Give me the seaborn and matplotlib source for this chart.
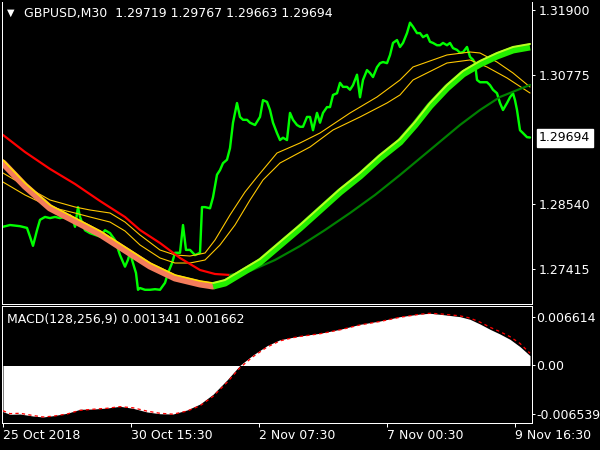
import numpy as np
import matplotlib
matplotlib.use("Agg")
import matplotlib.pyplot as plt
import matplotlib.transforms as mtrans
import seaborn as sns

# ---------------- data (bar index of M30 candles) ----------------
price_bar = [0, 7, 17, 24, 27, 30, 34, 37, 42, 47,
             52, 57, 62, 67, 70, 72, 75, 77, 82, 87,
             92, 97, 102, 107, 112, 117, 119, 122, 125, 127,
             130, 133, 135, 137, 142, 147, 152, 157, 162, 165,
             169, 172, 177, 180, 183, 187, 192, 197, 199, 202,
             207, 210, 214, 217, 220, 224, 227, 230, 234, 237,
             240, 244, 247, 252, 257, 260, 264, 267, 270, 274,
             277, 280, 284, 287, 290, 294, 297, 300, 304, 307,
             310, 314, 317, 320, 324, 327, 330, 334, 337, 340,
             344, 347, 350, 354, 357, 360, 364, 367, 370, 374,
             377, 380, 384, 387, 390, 394, 397, 400, 404, 407,
             410, 414, 417, 420, 424, 427, 430, 434, 437, 440,
             444, 447, 450, 454, 457, 460, 464, 467, 470, 472,
             474, 477, 480, 484, 487, 490, 494, 497, 500, 504,
             507, 510, 512, 514, 517, 520, 524, 527]
price_close = [1.2815, 1.2818, 1.2816, 1.2813, 1.2798, 1.2782, 1.2809, 1.2827, 1.2832, 1.2830,
               1.2832, 1.2830, 1.2832, 1.2835, 1.2827, 1.2815, 1.2849, 1.2832, 1.2809, 1.2804,
               1.2801, 1.2798, 1.2809, 1.2804, 1.2792, 1.2766, 1.2758, 1.2746, 1.2758, 1.2770,
               1.2752, 1.2735, 1.2706, 1.2709, 1.2706, 1.2706, 1.2707, 1.2706, 1.2718, 1.2735,
               1.2752, 1.2770, 1.2770, 1.2818, 1.2775, 1.2775, 1.2766, 1.2770, 1.2849, 1.2849,
               1.2847, 1.2866, 1.2905, 1.2913, 1.2925, 1.2931, 1.2951, 1.2995, 1.3029, 1.3005,
               1.3000, 1.3000, 1.2995, 1.2991, 1.3005, 1.3034, 1.3031, 1.3017, 1.2995, 1.2977,
               1.2965, 1.2969, 1.2965, 1.3012, 1.3000, 1.2991, 1.2988, 1.2988, 1.3005, 1.3005,
               1.2982, 1.3012, 1.2995, 1.3012, 1.3022, 1.3022, 1.3043, 1.3046, 1.3064, 1.3057,
               1.3057, 1.3052, 1.3060, 1.3078, 1.3039, 1.3069, 1.3086, 1.3081, 1.3074, 1.3091,
               1.3098, 1.3100, 1.3098, 1.3112, 1.3133, 1.3138, 1.3126, 1.3133, 1.3150, 1.3168,
               1.3161, 1.3150, 1.3150, 1.3143, 1.3147, 1.3135, 1.3133, 1.3129, 1.3129, 1.3133,
               1.3129, 1.3133, 1.3124, 1.3121, 1.3116, 1.3117, 1.3126, 1.3109, 1.3104, 1.3098,
               1.3069, 1.3065, 1.3065, 1.3065, 1.3060, 1.3052, 1.3046, 1.3029, 1.3017, 1.3029,
               1.3039, 1.3046, 1.3034, 1.3017, 1.2982, 1.2977, 1.2970, 1.29694]

slow_bar = [0, 22, 47, 72, 97, 122, 147, 172, 197, 210, 222, 237, 257, 277,
            297, 317, 337, 357, 377, 397, 412, 427, 444, 460, 477, 494, 510, 527]
slow_ma = [1.29253, 1.28855, 1.28475, 1.28250, 1.28025, 1.27748, 1.27471, 1.27264, 1.27160,
           1.27125, 1.27177, 1.27333, 1.27540, 1.27835, 1.28129, 1.28440, 1.28751, 1.29028,
           1.29340, 1.29616, 1.29911, 1.30239, 1.30551, 1.30793, 1.30966, 1.31104, 1.31208, 1.31260]

trend_bar = [0, 22, 47, 72, 97, 122, 137, 157, 177, 197, 212, 227,
             247, 272, 297, 322, 347, 372, 397, 427, 457, 477, 497, 527]
trend_ma = [1.29738, 1.29443, 1.29150, 1.28890, 1.28596, 1.28319, 1.28094, 1.27869, 1.27610,
            1.27402, 1.27333, 1.27316, 1.27385, 1.27575, 1.27817, 1.28094, 1.28388, 1.28700,
            1.29046, 1.29478, 1.29911, 1.30170, 1.30395, 1.30603]

upper_bar = [0, 22, 47, 72, 87, 107, 122, 137, 157, 172, 187, 202, 212, 227, 242,
             254, 274, 297, 317, 347, 374, 397, 410, 444, 467, 477, 494, 510, 527]
upper_band = [1.29080, 1.28855, 1.28613, 1.28492, 1.28440, 1.28388, 1.28232, 1.28008, 1.27748,
              1.27662, 1.27644, 1.27696, 1.27921, 1.28354, 1.28751, 1.29011, 1.29426, 1.29599,
              1.29772, 1.30118, 1.30395, 1.30689, 1.30914, 1.31122, 1.31173, 1.31156, 1.31000,
              1.30810, 1.30568]

lower_bar = [0, 22, 47, 72, 87, 107, 122, 137, 157, 172, 187, 202, 217, 232,
             247, 260, 277, 307, 330, 357, 384, 397, 410, 444, 467, 484, 504, 527]
lower_band = [1.28924, 1.28700, 1.28492, 1.28388, 1.28319, 1.28232, 1.28077, 1.27835, 1.27610,
              1.27523, 1.27523, 1.27575, 1.27835, 1.28181, 1.28613, 1.28959, 1.29253, 1.29530,
              1.29824, 1.30049, 1.30291, 1.30430, 1.30689, 1.30983, 1.31035, 1.30914, 1.30724,
              1.30464]

macd_bar = [0, 7, 17, 30, 40, 50, 64, 77, 90, 104, 117, 130, 144, 157, 170, 184, 197, 210,
            224, 237, 250, 264, 277, 290, 297, 317, 337, 357, 377, 397, 417, 427, 437, 457,
            467, 477, 487, 497, 507, 517, 527]
macd_main = [-0.00628, -0.00664, -0.00660, -0.00687, -0.00700, -0.00683, -0.00650, -0.00596,
             -0.00592, -0.00578, -0.00555, -0.00582, -0.00632, -0.00656, -0.00660, -0.00605,
             -0.00524, -0.00392, -0.00197, 0.00003, 0.00143, 0.00269, 0.00350, 0.00384,
             0.00401, 0.00438, 0.00492, 0.00560, 0.00605, 0.00664, 0.00700, 0.00710, 0.00696,
             0.00664, 0.00628, 0.00564, 0.00492, 0.00428, 0.00356, 0.00256, 0.00134]
macd_signal = [-0.00615, -0.00655, -0.00650, -0.00680, -0.00700, -0.00690, -0.00660, -0.00610,
               -0.00595, -0.00582, -0.00560, -0.00575, -0.00620, -0.00650, -0.00662, -0.00620,
               -0.00548, -0.00420, -0.00230, -0.00030, 0.00120, 0.00250, 0.00335, 0.00378,
               0.00395, 0.00432, 0.00485, 0.00552, 0.00598, 0.00656, 0.00697, 0.00710, 0.00702,
               0.00675, 0.00645, 0.00590, 0.00520, 0.00460, 0.00392, 0.00300, 0.00166]

price_ticks = [1.27415, 1.28540, 1.30775, 1.31900]
price_tick_labels = ["1.27415", "1.28540", "1.30775", "1.31900"]
last_price = 1.29694
macd_ticks = [-0.006539, 0.0, 0.006614]
macd_tick_labels = ["-0.006539", "0.00", "0.006614"]
time_ticks = [0, 128, 256, 384, 512]
time_labels = ["25 Oct 2018", "30 Oct 15:30", "2 Nov 07:30", "7 Nov 00:30", "9 Nov 16:30"]
title_text = "GBPUSD,M30  1.29719 1.29767 1.29663 1.29694"
macd_text = "MACD(128,256,9) 0.001341 0.001662"

# ---------------- style ----------------
sns.set_theme(style="dark", rc={"axes.facecolor": "black", "figure.facecolor": "black"})
plt.rcParams['font.family'] = ['DejaVu Sans']
plt.rcParams['axes.grid'] = False

W, H = 600, 450
PX = 72 / 100.0  # points per pixel
fig = plt.figure(figsize=(6, 4.5), dpi=100, facecolor='black')
ax = fig.add_axes([2 / W, 1 - 304 / H, 530 / W, 302 / H])
ax2 = fig.add_axes([2 / W, 1 - 423 / H, 530 / W, 117 / H])
for a in (ax, ax2):
    a.set_facecolor('black')
    a.grid(False)
    for s in a.spines.values():
        s.set_color('white')
        s.set_linewidth(1.0 * PX)
    a.set_xlim(-1, 529)
ax.spines['top'].set_visible(False)

ax.set_ylim(1.26814, 1.32038)
ax2.set_ylim(-0.00782, 0.00809)

# price line
sns.lineplot(x=price_bar, y=price_close, ax=ax, color='#00FF00', linewidth=2.4 * PX,
             estimator=None, sort=False)

# channel lines
sns.lineplot(x=upper_bar, y=upper_band, ax=ax, color='#FFC800', linewidth=1.1 * PX,
             estimator=None, sort=False)
sns.lineplot(x=lower_bar, y=lower_band, ax=ax, color='#FFC800', linewidth=1.1 * PX,
             estimator=None, sort=False)

# trend MA: red while falling, dark green while rising
k = int(np.argmin(trend_ma))
sns.lineplot(x=trend_bar[:k + 1], y=trend_ma[:k + 1], ax=ax, color='#FF0000',
             linewidth=2.2 * PX, estimator=None, sort=False)
sns.lineplot(x=trend_bar[k:], y=trend_ma[k:], ax=ax, color='#008000',
             linewidth=2.2 * PX, estimator=None, sort=False)

# slow colour MA: salmon falling, lime rising, with a bright top edge
j = int(np.argmin(slow_ma))
up = mtrans.offset_copy(ax.transData, fig=fig, x=0, y=3, units='dots')
sns.lineplot(x=slow_bar[:j + 1], y=slow_ma[:j + 1], ax=ax, color='#F47C5C',
             linewidth=7 * PX, estimator=None, sort=False, solid_capstyle='round')
ax.plot(slow_bar[:j + 1], slow_ma[:j + 1], color='#FFE000', linewidth=1.6 * PX, transform=up)
sns.lineplot(x=slow_bar[j:], y=slow_ma[j:], ax=ax, color='#22EE00',
             linewidth=7 * PX, estimator=None, sort=False, solid_capstyle='butt')
ax.plot(slow_bar[j:], slow_ma[j:], color='#B8FF20', linewidth=2.0 * PX, transform=up)

# MACD
ax2.fill_between(macd_bar, 0, macd_main, color='white', linewidth=0)
sns.lineplot(x=macd_bar, y=macd_signal, ax=ax2, color='#FF0000', linewidth=1.3 * PX,
             estimator=None, sort=False, dashes=False)
ax2.lines[-1].set_linestyle((0, (2.5, 2.5)))

# axes / ticks
for a in (ax, ax2):
    a.set_xlabel('')
    a.set_ylabel('')
    a.yaxis.tick_right()

ax.set_yticks(price_ticks)
ax.set_yticklabels(price_tick_labels)
ax.tick_params(axis='y', which='both', colors='white', labelcolor='white', length=3 * PX,
               width=1 * PX, pad=4 * PX, labelsize=9, left=False, right=True)
ax.tick_params(axis='x', bottom=False, labelbottom=False)
ax.set_xticks([])

ax2.set_yticks(macd_ticks)
ax2.set_yticklabels(macd_tick_labels)
ax2.tick_params(axis='y', which='both', colors='white', labelcolor='white', length=3 * PX,
                width=1 * PX, pad=1 * PX, labelsize=9, left=False, right=True)
ax2.set_xticks(time_ticks)
ax2.set_xticklabels(time_labels, ha='left')
ax2.tick_params(axis='x', colors='white', labelcolor='white', length=4 * PX, width=1 * PX,
                pad=2 * PX, labelsize=9, bottom=True)

# last price box
blend = mtrans.blended_transform_factory(ax.transAxes, ax.transData)
blend = mtrans.offset_copy(blend, fig=fig, x=7, y=0, units='dots')
ax.text(1.0, last_price, f"{last_price:.5f}", transform=blend, ha='left', va='center',
        color='black', fontsize=9, clip_on=False,
        bbox=dict(boxstyle='square,pad=0.2', fc='white', ec='white'))

# header texts
fig.text(7 / W, 1 - 13 / H, "\u25BC", color='white', fontsize=7, ha='left', va='center')
fig.text(24 / W, 1 - 13 / H, title_text, color='white', fontsize=9, ha='left', va='center')
ax2.text(5 / 530, 1 - 14 / 117, macd_text, transform=ax2.transAxes, color='white',
         fontsize=9, ha='left', va='center')

fig.savefig("out.png", dpi=100, facecolor='black')
